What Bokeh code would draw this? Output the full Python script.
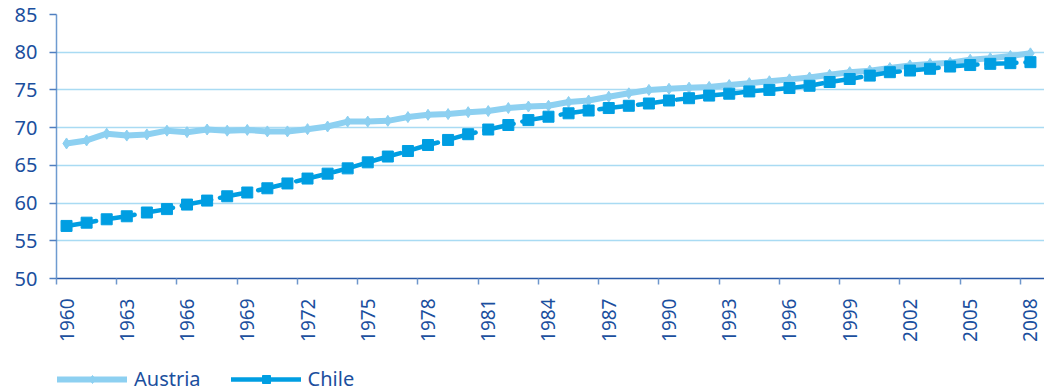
from bokeh.plotting import figure
from bokeh.layouts import column
from bokeh.models import FixedTicker, Range1d, Legend, LegendItem, ColumnDataSource
from bokeh.embed import file_html
from bokeh.resources import INLINE

years = list(range(1960, 2009))
austria = [67.9, 68.3, 69.2, 68.95, 69.1, 69.6, 69.4, 69.75, 69.6, 69.7,
           69.5, 69.5, 69.8, 70.15, 70.8, 70.8, 70.9, 71.4, 71.7, 71.8,
           72.05, 72.2, 72.6, 72.8, 72.9, 73.4, 73.6, 74.1, 74.55, 75.0,
           75.15, 75.3, 75.4, 75.65, 75.9, 76.15, 76.4, 76.65, 77.0, 77.35,
           77.55, 77.9, 78.25, 78.45, 78.6, 79.0, 79.2, 79.5, 79.85]
chile = [56.97, 57.4, 57.85, 58.25, 58.75, 59.2, 59.8, 60.33, 60.9, 61.4,
         61.96, 62.6, 63.25, 63.9, 64.6, 65.4, 66.17, 66.9, 67.7, 68.37,
         69.13, 69.75, 70.35, 71.0, 71.45, 71.9, 72.27, 72.6, 72.9, 73.2,
         73.6, 73.9, 74.25, 74.5, 74.8, 75.0, 75.25, 75.55, 76.05, 76.45,
         76.9, 77.35, 77.57, 77.8, 78.1, 78.3, 78.46, 78.55, 78.68]
series_names = ["Austria", "Chile"]
label_years = list(range(1960, 2009, 3))
y_ticks = [50, 55, 60, 65, 70, 75, 80, 85]

TEXT = "#1B4F9E"
FONT = "Noto Sans"
AUS_C = "#8DD0F1"
CHL_C = "#009EE2"

src = ColumnDataSource(dict(year=years, austria=austria, chile=chile))

p = figure(frame_width=988, frame_height=264, output_backend="svg",
           toolbar_location=None,
           x_range=Range1d(years[0] - 0.5, years[-1] + 0.7),
           y_range=Range1d(50, 85),
           min_border_left=56, min_border_right=0, min_border_top=14,
           min_border_bottom=0)
p.outline_line_color = None
p.background_fill_color = "white"
p.border_fill_color = "white"

# grid
p.xgrid.grid_line_color = None
p.ygrid.ticker = FixedTicker(ticks=y_ticks)
p.ygrid.grid_line_color = "#A9DBF3"
p.ygrid.grid_line_width = 1.5

# x axis
xa = p.xaxis[0]
xa.ticker = FixedTicker(ticks=label_years,
                        minor_ticks=[y - 0.5 for y in label_years])
xa.major_tick_out = 0
xa.major_tick_in = 0
xa.minor_tick_out = 6
xa.minor_tick_in = 0
xa.minor_tick_line_color = "#6F97CC"
xa.minor_tick_line_width = 1.5
xa.axis_line_color = "#2A5AA8"
xa.axis_line_width = 1.5
xa.major_label_orientation = 1.5708
xa.major_label_standoff = 14
xa.major_label_text_font = FONT
xa.major_label_text_font_size = "19px"
xa.major_label_text_color = TEXT

# y axis
ya = p.yaxis[0]
ya.ticker = FixedTicker(ticks=y_ticks)
ya.major_tick_out = 7
ya.major_tick_in = 0
ya.minor_tick_out = 0
ya.minor_tick_in = 0
ya.major_tick_line_color = "#4F7FC0"
ya.major_tick_line_width = 1.5
ya.axis_line_color = "#6E9BD0"
ya.axis_line_width = 1.5
ya.major_label_standoff = 12
ya.major_label_text_font = FONT
ya.major_label_text_font_size = "20px"
ya.major_label_text_color = TEXT

AUS_LINE = dict(line_color=AUS_C, line_width=6, line_join="round", line_cap="round")
AUS_MARK = dict(marker="diamond", size=11, fill_color=AUS_C, line_color=AUS_C)
CHL_LINE = dict(line_color=CHL_C, line_width=4.5, line_dash="30 9", line_cap="round")
CHL_MARK = dict(marker="square", size=11, fill_color=CHL_C, line_color=CHL_C)

# series
p.line("year", "austria", source=src, **AUS_LINE)
p.scatter("year", "austria", source=src, **AUS_MARK)
p.line("year", "chile", source=src, **CHL_LINE)
p.scatter("year", "chile", source=src, **CHL_MARK)

# legend strip (separate small figure below the chart)
LEG_H = 52
q = figure(width=1044, height=LEG_H, output_backend="svg", toolbar_location=None,
           x_axis_type=None, y_axis_type=None,
           x_range=Range1d(0, 1), y_range=Range1d(0, 1),
           min_border=0, min_border_left=0, min_border_right=0,
           min_border_top=0, min_border_bottom=0)
q.grid.visible = False
q.outline_line_color = None
q.border_fill_color = "white"
nan = float("nan")
empty = ColumnDataSource(dict(x=[nan], y=[nan]))
la = q.line("x", "y", source=empty, **AUS_LINE)
sa = q.scatter("x", "y", source=empty, **AUS_MARK)
lc = q.line("x", "y", source=empty, **CHL_LINE)
sc = q.scatter("x", "y", source=empty, **CHL_MARK)

legend = Legend(items=[LegendItem(label=series_names[0], renderers=[la, sa]),
                       LegendItem(label=series_names[1], renderers=[lc, sc])],
                orientation="horizontal", location=(1, 4),
                glyph_width=70, glyph_height=20, label_standoff=7,
                spacing=30, padding=0, margin=0, label_height=20,
                label_text_font=FONT, label_text_font_size="20px",
                label_text_color=TEXT, border_line_color=None,
                background_fill_alpha=0)
q.add_layout(legend, "center")

layout = column(p, q, spacing=0)
open("out.html", "w").write(file_html(layout, INLINE))
